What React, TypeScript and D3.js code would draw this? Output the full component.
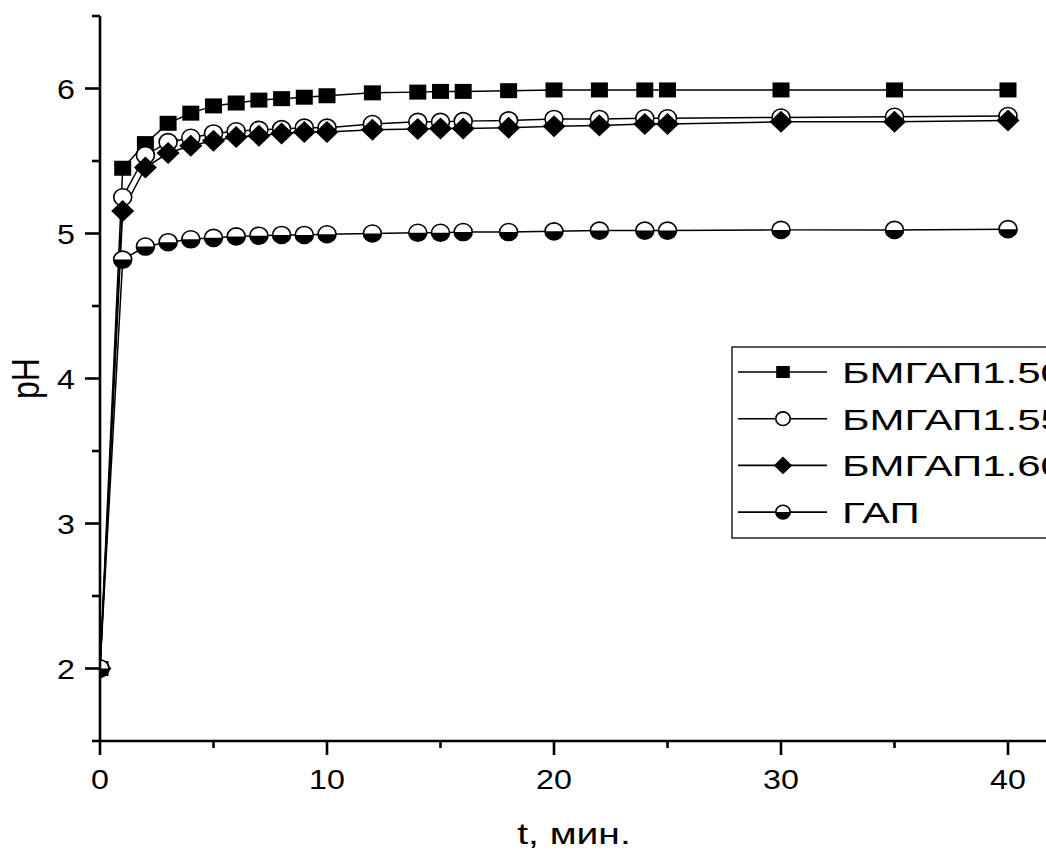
import React, { useRef, useEffect } from "react";
import * as d3 from "d3";

// time, min
const times = [0, 1, 2, 3, 4, 5, 6, 7, 8, 9, 10, 12, 14, 15, 16, 18, 20, 22, 24, 25, 30, 35, 40];

// pH values
const bmgap150 = [2, 5.45, 5.62, 5.76, 5.83, 5.88, 5.9, 5.92, 5.93, 5.94, 5.95, 5.97, 5.975, 5.98, 5.98, 5.985, 5.99, 5.99, 5.99, 5.99, 5.99, 5.99, 5.99];
const bmgap155 = [2, 5.25, 5.54, 5.63, 5.66, 5.69, 5.705, 5.715, 5.72, 5.73, 5.73, 5.755, 5.77, 5.77, 5.775, 5.78, 5.79, 5.79, 5.795, 5.795, 5.8, 5.805, 5.81];
const bmgap160 = [2, 5.155, 5.455, 5.555, 5.605, 5.64, 5.665, 5.675, 5.69, 5.7, 5.7, 5.715, 5.72, 5.725, 5.725, 5.73, 5.74, 5.745, 5.755, 5.755, 5.77, 5.77, 5.78];
const gap = [2, 4.82, 4.91, 4.94, 4.96, 4.97, 4.98, 4.985, 4.99, 4.99, 4.995, 5.0, 5.005, 5.005, 5.01, 5.01, 5.015, 5.02, 5.02, 5.02, 5.025, 5.025, 5.03];

const seriesNames = ["БМГАП1.50", "БМГАП1.55", "БМГАП1.60", "ГАП"];
const markerKinds = ["square", "circle", "diamond", "half"];

const xTicks = [0, 10, 20, 30, 40];
const xMinor = [5, 15, 25, 35];
const yTicks = [2, 3, 4, 5, 6];
const yMinor = [1.5, 2.5, 3.5, 4.5, 5.5, 6.5];

const FONT = "'Liberation Sans', Arial, sans-serif";

function drawMarker(g, kind, x, y, s) {
  // s = scale factor for marker size
  if (kind === "square") {
    g.append("rect")
      .attr("x", x - 8.5 * s).attr("y", y - 7.5 * s)
      .attr("width", 17 * s).attr("height", 15 * s)
      .attr("fill", "#000");
  } else if (kind === "circle") {
    g.append("ellipse")
      .attr("cx", x).attr("cy", y).attr("rx", 9 * s).attr("ry", 8.5 * s)
      .attr("fill", "#fff").attr("stroke", "#000").attr("stroke-width", 1.6);
  } else if (kind === "diamond") {
    const w = 11.5 * s, h = 11 * s;
    g.append("path")
      .attr("d", `M${x},${y - h}L${x + w},${y}L${x},${y + h}L${x - w},${y}Z`)
      .attr("fill", "#000");
  } else {
    const rx = 9 * s, ry = 8.5 * s;
    g.append("ellipse")
      .attr("cx", x).attr("cy", y).attr("rx", rx).attr("ry", ry)
      .attr("fill", "#fff").attr("stroke", "#000").attr("stroke-width", 1.6);
    g.append("path")
      .attr("d", `M${x - rx},${y}A${rx},${ry} 0 0 0 ${x + rx},${y}Z`)
      .attr("fill", "#000");
  }
}

export default function App() {
  const svgRef = useRef(null);

  useEffect(() => {
    const svg = d3.select(svgRef.current);
    svg.selectAll("*").remove();

    const xScale = d3.scaleLinear().domain([0, 40]).range([100, 1008]);
    const yScale = d3.scaleLinear().domain([1.5, 6.5]).range([741, 16]);

    const data = [bmgap150, bmgap155, bmgap160, gap];

    // clip data to the plot area (markers at t=0 get cut by the axis)
    svg.append("defs").append("clipPath").attr("id", "plotClip")
      .append("rect")
      .attr("x", xScale(0)).attr("y", 0)
      .attr("width", 1046).attr("height", yScale(1.5));

    // series lines + markers
    const plot = svg.append("g").attr("clip-path", "url(#plotClip)");
    data.forEach((vals) => {
      const pts = times.map((t, k) => [t, vals[k]]);
      const ln = d3.line().x((d) => xScale(d[0])).y((d) => yScale(d[1]));
      plot.append("path")
        .attr("d", ln(pts))
        .attr("fill", "none")
        .attr("stroke", "#000")
        .attr("stroke-width", 1.5);
    });
    data.forEach((vals, i) => {
      const g = plot.append("g");
      times.forEach((t, k) => drawMarker(g, markerKinds[i], xScale(t), yScale(vals[k]), 1));
    });

    // axes
    const ax = svg.append("g").attr("stroke", "#000").attr("stroke-width", 2.6);
    const x0 = xScale(0);
    const yBase = yScale(1.5);
    ax.append("line").attr("x1", x0).attr("x2", x0).attr("y1", yScale(6.5)).attr("y2", yBase);
    ax.append("line").attr("x1", x0).attr("x2", 1060).attr("y1", yBase).attr("y2", yBase);

    xTicks.forEach((t) => {
      ax.append("line").attr("x1", xScale(t)).attr("x2", xScale(t)).attr("y1", yBase).attr("y2", yBase + 14);
    });
    xMinor.forEach((t) => {
      ax.append("line").attr("x1", xScale(t)).attr("x2", xScale(t)).attr("y1", yBase).attr("y2", yBase + 7);
    });
    yTicks.forEach((v) => {
      ax.append("line").attr("x1", x0 - 15).attr("x2", x0).attr("y1", yScale(v)).attr("y2", yScale(v));
    });
    yMinor.forEach((v) => {
      ax.append("line").attr("x1", x0 - 8).attr("x2", x0).attr("y1", yScale(v)).attr("y2", yScale(v));
    });

    const tickFont = 28;
    xTicks.forEach((t) => {
      svg.append("text")
        .attr("transform", `translate(${xScale(t)},${yBase + 48}) scale(1.15,1)`)
        .attr("text-anchor", "middle")
        .attr("font-family", FONT).attr("font-size", tickFont)
        .text(t);
    });
    yTicks.forEach((v) => {
      svg.append("text")
        .attr("transform", `translate(${x0 - 25},${yScale(v) + 10}) scale(1.15,1)`)
        .attr("text-anchor", "end")
        .attr("font-family", FONT).attr("font-size", tickFont)
        .text(v);
    });

    // axis titles
    svg.append("text")
      .attr("transform", `translate(574,844) scale(1.3,1)`)
      .attr("text-anchor", "middle")
      .attr("font-family", FONT).attr("font-size", 30)
      .text("t, мин.");
    svg.append("text")
      .attr("transform", `translate(39,${(yScale(6.5) + yBase) / 2}) rotate(-90) scale(1,1.2)`)
      .attr("text-anchor", "middle")
      .attr("font-family", FONT).attr("font-size", 32)
      .text("pH");

    // legend
    const leg = svg.append("g");
    leg.append("rect")
      .attr("x", 732).attr("y", 347).attr("width", 400).attr("height", 191)
      .attr("fill", "#fff").attr("stroke", "#222").attr("stroke-width", 1.5);
    seriesNames.forEach((name, i) => {
      const cy = 372 + i * 46.7;
      leg.append("line").attr("x1", 738).attr("x2", 827).attr("y1", cy).attr("y2", cy)
        .attr("stroke", "#000").attr("stroke-width", 1.6);
      drawMarker(leg, markerKinds[i], 783, cy, 0.8);
      leg.append("text")
        .attr("transform", `translate(842,${cy + 11}) scale(1.4,1)`)
        .attr("font-family", FONT).attr("font-size", 30)
        .text(name);
    });
  }, []);

  return (
    <svg
      ref={svgRef}
      width={1046}
      height={852}
      style={{ position: "absolute", left: 0, top: 0, background: "#fff" }}
    />
  );
}
